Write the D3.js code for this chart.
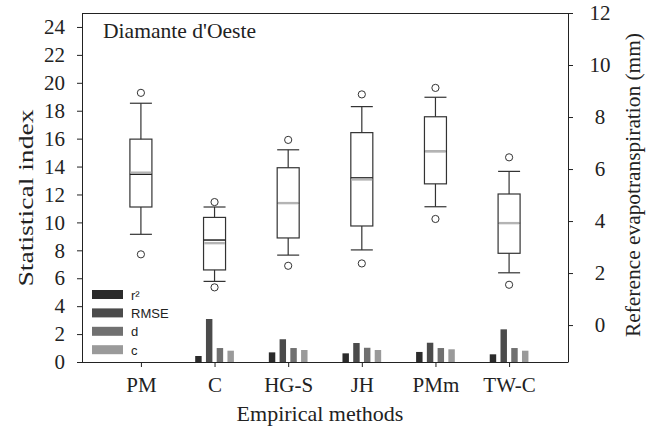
<!DOCTYPE html>
<html>
<head>
<meta charset="utf-8">
<script src="https://d3js.org/d3.v7.min.js"></script>
<style>
 body { margin: 0; background: #fff; }
 svg text { font-family: "Liberation Serif", "Times New Roman", serif; fill: #222; }
</style>
</head>
<body>
<svg id="chart" width="655" height="430"></svg>
<script>
 // categories and statistics
 var methods = ["PM", "C", "HG-S", "JH", "PMm", "TW-C"];
 var metrics = ["r²", "RMSE", "d", "c"];
 var metricColors = ["#2b2b2b", "#4b4b4b", "#707070", "#9a9a9a"];

 // bar values (left axis, statistical index); PM is the reference so no bars
 var r2   = [null, 0.43, 0.69, 0.62, 0.72, 0.55];
 var rmse = [null, 3.08, 1.63, 1.36, 1.38, 2.34];
 var dIdx = [null, 1.00, 1.00, 1.02, 1.00, 1.00];
 var cIdx = [null, 0.81, 0.86, 0.86, 0.91, 0.81];

 // box plot values (right axis, ETo in mm)
 var whiskerLow  = [3.49, 1.68, 2.69, 2.89, 4.55, 2.01];
 var q1          = [4.54, 2.12, 3.35, 3.81, 5.43, 2.76];
 var median      = [5.80, 3.27, 4.69, 5.66, 6.68, 3.92];
 var mean        = [5.86, 3.15, 4.69, 5.60, 6.68, 3.92];
 var q3          = [7.15, 4.14, 6.05, 7.40, 8.01, 5.04];
 var whiskerHigh = [8.53, 4.54, 6.74, 8.40, 8.76, 5.91];
 var outLow      = [2.72, 1.45, 2.28, 2.37, 4.08, 1.55];
 var outHigh     = [8.93, 4.73, 7.12, 8.87, 9.12, 6.45];

 var leftTicks = d3.range(0, 25, 2);
 var rightTicks = d3.range(0, 13, 2);

 var pL = 82, pR = 568, pT = 13, pB = 362;
 var svg = d3.select("#chart");

 var x = d3.scalePoint().domain(methods).range([pL, pR]).padding(0.8);
 var yL = d3.scaleLinear().domain([0, 25]).range([pB, pT]);
 var yR = d3.scaleLinear().domain([-1.42, 12]).range([pB, pT]);
 var inner = d3.scaleBand().domain(metrics).range([-21.5, 21.5])
               .paddingInner(0.4).paddingOuter(0.2);

 var barRows = [];
 methods.forEach(function(m, i) {
     [r2, rmse, dIdx, cIdx].forEach(function(arr, k) {
         if (arr[i] != null) barRows.push({m: m, k: metrics[k], v: arr[i], col: metricColors[k]});
     });
 });

 svg.append("g").selectAll("rect")
    .data(barRows)
    .enter()
    .append("rect")
    .attr("x", function(d) { return x(d.m) + inner(d.k); })
    .attr("width", inner.bandwidth())
    .attr("y", function(d) { return yL(d.v); })
    .attr("height", function(d) { return yL(0) - yL(d.v); })
    .attr("fill", function(d) { return d.col; });

 // box plots
 var bw = 22, stroke = "#333";
 var boxes = methods.map(function(m, i) {
     return {m: m, wl: whiskerLow[i], q1: q1[i], med: median[i], mean: mean[i],
             q3: q3[i], wh: whiskerHigh[i], ol: outLow[i], oh: outHigh[i]};
 });
 var bg = svg.append("g").selectAll("g").data(boxes).enter().append("g");
 bg.append("line").attr("x1", function(d) { return x(d.m); }).attr("x2", function(d) { return x(d.m); })
   .attr("y1", function(d) { return yR(d.q3); }).attr("y2", function(d) { return yR(d.wh); })
   .attr("stroke", stroke).attr("stroke-width", 1.2);
 bg.append("line").attr("x1", function(d) { return x(d.m); }).attr("x2", function(d) { return x(d.m); })
   .attr("y1", function(d) { return yR(d.q1); }).attr("y2", function(d) { return yR(d.wl); })
   .attr("stroke", stroke).attr("stroke-width", 1.2);
 ["wh", "wl"].forEach(function(key) {
     bg.append("line").attr("x1", function(d) { return x(d.m) - bw / 2; })
       .attr("x2", function(d) { return x(d.m) + bw / 2; })
       .attr("y1", function(d) { return yR(d[key]); }).attr("y2", function(d) { return yR(d[key]); })
       .attr("stroke", stroke).attr("stroke-width", 1.2);
 });
 bg.append("rect").attr("x", function(d) { return x(d.m) - bw / 2; })
   .attr("width", bw)
   .attr("y", function(d) { return yR(d.q3); })
   .attr("height", function(d) { return yR(d.q1) - yR(d.q3); })
   .attr("fill", "none").attr("stroke", stroke).attr("stroke-width", 1.2);
 bg.append("line").attr("x1", function(d) { return x(d.m) - bw / 2; })
   .attr("x2", function(d) { return x(d.m) + bw / 2; })
   .attr("y1", function(d) { return yR(d.med); }).attr("y2", function(d) { return yR(d.med); })
   .attr("stroke", "#222").attr("stroke-width", 1.5);
 bg.append("line").attr("x1", function(d) { return x(d.m) - bw / 2 + 0.6; })
   .attr("x2", function(d) { return x(d.m) + bw / 2 - 0.6; })
   .attr("y1", function(d) { return yR(d.mean); }).attr("y2", function(d) { return yR(d.mean); })
   .attr("stroke", "#b4b4b4").attr("stroke-width", 2.4);
 ["oh", "ol"].forEach(function(key) {
     bg.append("circle").attr("cx", function(d) { return x(d.m); })
       .attr("cy", function(d) { return yR(d[key]); })
       .attr("r", 3.6).attr("fill", "#fff").attr("stroke", stroke).attr("stroke-width", 1);
 });

 // frame and axes
 svg.append("line").attr("x1", pL).attr("x2", pR).attr("y1", pT + 0.5).attr("y2", pT + 0.5)
    .attr("stroke", "#222").attr("stroke-width", 1);
 var axL = svg.append("g").attr("transform", "translate(" + pL + ",0)")
    .call(d3.axisLeft(yL).tickValues(leftTicks).tickSize(5).tickSizeOuter(0).tickPadding(12));
 var axR = svg.append("g").attr("transform", "translate(" + pR + ",0)")
    .call(d3.axisRight(yR).tickValues(rightTicks).tickSize(5).tickSizeOuter(0).tickPadding(27));
 var axB = svg.append("g").attr("transform", "translate(0," + pB + ")")
    .call(d3.axisBottom(x).tickSize(5).tickSizeOuter(0).tickPadding(10));
 axB.select(".domain").attr("d", "M" + pL + ",0.5H" + pR);
 [axL, axR, axB].forEach(function(a) {
     a.selectAll("path, line").attr("stroke", "#222");
     a.selectAll("text").attr("font-family", "Liberation Serif").attr("font-size", 21).attr("fill", "#222");
 });
 axR.selectAll("text").attr("text-anchor", "middle").attr("x", 32);
 axB.selectAll("text").attr("dy", "0.71em");

 // titles
 svg.append("text").attr("x", 103).attr("y", 38).attr("font-size", 21)
    .attr("textLength", 153).attr("lengthAdjust", "spacingAndGlyphs")
    .text("Diamante d'Oeste");
 svg.append("text").attr("transform", "translate(33,198) rotate(-90)")
    .attr("text-anchor", "middle").attr("font-size", 22)
    .attr("textLength", 177).attr("lengthAdjust", "spacingAndGlyphs")
    .text("Statistical index");
 svg.append("text").attr("transform", "translate(640,185) rotate(-90)")
    .attr("text-anchor", "middle").attr("font-size", 21)
    .attr("textLength", 304).attr("lengthAdjust", "spacingAndGlyphs")
    .text("Reference evapotranspiration (mm)");
 svg.append("text").attr("x", 320).attr("y", 421).attr("text-anchor", "middle")
    .attr("font-size", 22).text("Empirical methods");

 // legend
 var lg = svg.append("g").selectAll("g").data(metrics).enter().append("g")
    .attr("transform", function(d, i) { return "translate(92," + (290 + i * 18.4) + ")"; });
 lg.append("rect").attr("width", 31).attr("height", 9)
   .attr("fill", function(d, i) { return metricColors[i]; });
 lg.append("text").attr("x", 39).attr("y", 9.5)
   .style("font-family", "'Liberation Sans', Arial, sans-serif").attr("font-size", 13)
   .text(function(d) { return d; });
</script>
</body>
</html>
